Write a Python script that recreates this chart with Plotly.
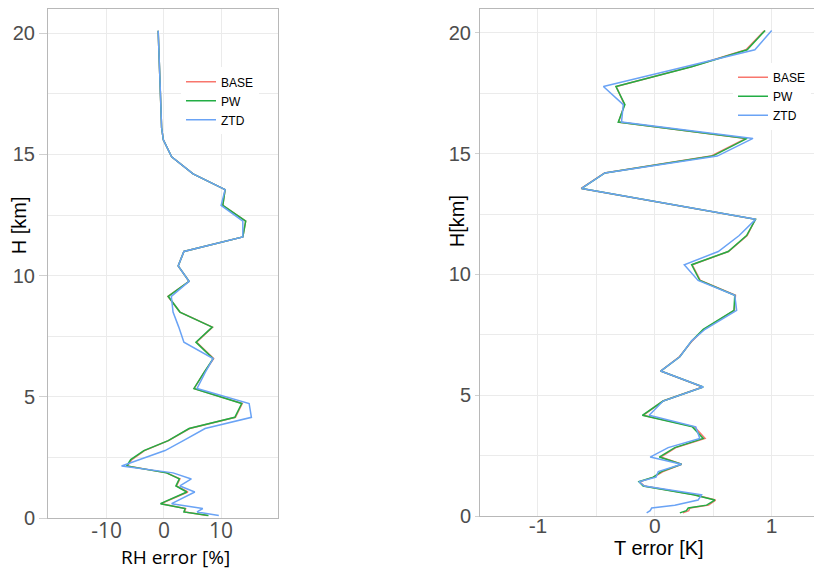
import plotly.graph_objects as go

# ---------------- data ----------------
SERIES = ["BASE", "PW", "ZTD"]

# Left panel: relative humidity error profile
H_RH = [0.11, 0.26, 0.40, 0.60, 1.08, 1.33, 1.62, 1.87, 2.15, 2.42, 2.79, 3.20,
        3.70, 4.16, 4.73, 5.35, 6.00, 6.58, 7.26, 7.88, 8.50, 9.15, 9.77, 10.40,
        11.00, 11.60, 12.25, 12.90, 13.55, 14.20, 14.90, 15.60, 16.10, 17.50, 20.10]
RH_BASE = [7.6, 3.6, 3.8, -0.5, 4.2, 2.2, 2.8, 0.5, -6.4, -5.6, -3.4, 0.8,
           4.5, 12.5, 13.7, 5.3, 7.0, 8.7, 5.7, 8.5, 2.8, 0.7, 4.4, 2.5,
           3.5, 13.8, 14.3, 10.3, 10.7, 5.1, 1.35, -0.1, -0.4, -0.6, -1.0]
RH_PW = [7.8, 3.5, 3.7, -0.6, 4.0, 2.1, 2.7, 0.45, -6.5, -5.8, -3.5, 0.76,
         4.4, 12.4, 13.6, 5.25, 7.0, 8.6, 5.6, 8.45, 2.8, 0.75, 4.4, 2.5,
         3.5, 13.8, 14.3, 10.3, 10.7, 5.1, 1.35, -0.1, -0.4, -0.6, -1.0]
RH_ZTD = [9.6, 5.8, 6.8, 1.35, 5.4, 2.8, 4.8, 1.6, -7.4, -4.2, 0.2, 3.4,
          7.2, 15.3, 14.9, 5.8, 7.2, 8.6, 3.5, 2.6, 1.6, 1.3, 4.4, 2.5,
          3.5, 13.8, 13.8, 10.0, 10.7, 5.1, 1.35, -0.1, -0.4, -0.6, -1.0]

# Right panel: temperature error profile
H_T = [0.13, 0.22, 0.33, 0.45, 0.66, 0.88, 1.24, 1.42, 1.61, 1.84, 2.14, 2.44,
       2.83, 3.21, 3.69, 4.17, 4.76, 5.34, 6.00, 6.59, 7.25, 7.73, 8.51, 9.14,
       9.75, 10.40, 10.95, 11.61, 12.28, 13.56, 14.20, 14.90, 15.63, 16.31,
       17.03, 17.78, 18.60, 19.30, 20.10]
T_BASE = [0.24, 0.29, 0.30, 0.46, 0.52, 0.34, -0.09, -0.13, -0.01, 0.07, 0.23, 0.05,
          0.18, 0.43, 0.34, -0.10, 0.07, 0.41, 0.05, 0.21, 0.32, 0.42, 0.68, 0.69,
          0.39, 0.32, 0.63, 0.79, 0.86, -0.63, -0.43, 0.48, 0.78, -0.31, -0.26,
          -0.33, 0.31, 0.78, 0.94]
T_PW = [0.214, 0.27, 0.286, 0.443, 0.513, 0.33, -0.10, -0.136, -0.013, 0.056, 0.228, 0.038,
        0.171, 0.414, 0.322, -0.107, 0.071, 0.414, 0.05, 0.214, 0.315, 0.414, 0.677, 0.684,
        0.385, 0.315, 0.628, 0.785, 0.862, -0.626, -0.427, 0.494, 0.79, -0.313, -0.256,
        -0.333, 0.315, 0.79, 0.944]
T_ZTD = [-0.07, -0.04, -0.027, 0.171, 0.37, 0.40, -0.09, -0.136, 0.01, 0.03, 0.228, -0.04,
         0.114, 0.385, 0.35, -0.048, 0.071, 0.414, 0.05, 0.214, 0.315, 0.43, 0.70, 0.684,
         0.37, 0.252, 0.543, 0.722, 0.862, -0.626, -0.427, 0.534, 0.84, -0.285, -0.27,
         -0.44, 0.26, 0.856, 1.0]

X_TICKS_RH = [-10, 0, 10]
X_TICKS_T = [-1, 0, 1]
Y_TICKS = [0, 5, 10, 15, 20]

# ---------------- styling ----------------
COLORS = {"BASE": "#F8766D", "PW": "#22AD44", "ZTD": "#6AA3F5"}
GRID = "#ebebeb"
FRAME = "#b8b8b8"
TICKCOL = "#4d4d4d"
OFF = 8          # page body margin
KY = 0.979       # observed vertical scale of the photograph
W, H = 806, 574

fig = go.Figure()
rh = {"BASE": RH_BASE, "PW": RH_PW, "ZTD": RH_ZTD}
tt = {"BASE": T_BASE, "PW": T_PW, "ZTD": T_ZTD}
for s in SERIES:
    fig.add_trace(go.Scatter(x=rh[s], y=H_RH, mode="lines", name=s,
                             line=dict(color=COLORS[s], width=1.5),
                             xaxis="x", yaxis="y", legend="legend"))
for s in SERIES:
    fig.add_trace(go.Scatter(x=tt[s], y=H_T, mode="lines", name=s,
                             line=dict(color=COLORS[s], width=1.5),
                             xaxis="x2", yaxis="y2", legend="legend2"))


def px_x(p):
    return min(1.0, max(0.0, (p - OFF) / W))


def fy(p):
    """screen y -> figure pixel y"""
    return p / KY - OFF


def px_y(p):
    return min(1.0, max(0.0, (H - fy(p)) / H))


def yrange(y20, y0):
    # screen positions of H=20 and H=0, top of plot at figure y = 0
    per = (fy(y0) - fy(y20)) / 20.0
    return [0, 20 + fy(y20) / per]


common_x = dict(showgrid=True, gridcolor=GRID, gridwidth=1, zeroline=False,
                showline=True, linecolor=FRAME, linewidth=1, mirror=True,
                ticks="", fixedrange=True)
common_y = dict(showgrid=True, gridcolor=GRID, gridwidth=1, zeroline=False,
                showline=True, linecolor=FRAME, linewidth=1,
                ticks="outside", tickcolor="#d0d0d0", fixedrange=True,
                tickvals=Y_TICKS, ticktext=[str(v) for v in Y_TICKS],
                tickfont=dict(family="Liberation Sans", size=20, color=TICKCOL),
                minor=dict(dtick=2.5, tick0=0, showgrid=True, gridcolor=GRID, ticks=""))

fig.update_layout(
    width=W, height=H, margin=dict(l=0, r=0, t=0, b=0),
    paper_bgcolor="white", plot_bgcolor="white",
    xaxis=dict(domain=[px_x(48), px_x(278.3)], range=[-20.26, 20.0], anchor="y",
               tickvals=X_TICKS_RH, ticktext=[str(v) for v in X_TICKS_RH],
               tickfont=dict(family="Open Sans", size=21, color=TICKCOL),
               ticklabelstandoff=-6, **common_x),
    yaxis=dict(domain=[px_y(517), 1.0], range=yrange(32, 517),
               anchor="x", mirror=True, ticklen=8, **common_y),
    xaxis2=dict(domain=[px_x(480), 1.0], range=[-1.496, 1.362], anchor="y2",
                tickvals=X_TICKS_T, ticktext=[str(v) for v in X_TICKS_T],
                tickfont=dict(family="Liberation Sans", size=21, color=TICKCOL),
                minor=dict(dtick=0.5, tick0=0, showgrid=True, gridcolor=GRID, ticks=""),
                ticklabelstandoff=-9, **common_x),
    yaxis2=dict(domain=[px_y(514.8), 1.0], range=yrange(31.7, 514.8), anchor="x2",
                mirror=False, ticklen=4, **common_y),
    legend=dict(x=px_x(181), y=(H - 59.6) / H, xanchor="left", yanchor="top",
                bgcolor="white", borderwidth=0, tracegroupgap=0,
                font=dict(family="Liberation Sans", size=12, color="black")),
    legend2=dict(x=px_x(733), y=(H - 54.8) / H, xanchor="left", yanchor="top",
                 bgcolor="white", borderwidth=0, tracegroupgap=0,
                 font=dict(family="Liberation Sans", size=12, color="black")),
    annotations=[
        dict(text="RH error [%]", x=px_x(175), y=px_y(556), xref="paper", yref="paper",
             showarrow=False, xanchor="center", yanchor="middle",
             font=dict(family="Open Sans", size=19, color="black")),
        dict(text="T error [K]", x=px_x(659), y=px_y(547), xref="paper", yref="paper",
             showarrow=False, xanchor="center", yanchor="middle",
             font=dict(family="Liberation Sans", size=20, color="black")),
        dict(text="H [km]", x=px_x(19), y=px_y(224), xref="paper", yref="paper",
             showarrow=False, xanchor="center", yanchor="middle", textangle=-90,
             font=dict(family="Liberation Sans", size=20, color="black")),
        dict(text="H[km]", x=px_x(457), y=px_y(220), xref="paper", yref="paper",
             showarrow=False, xanchor="center", yanchor="middle", textangle=-90,
             font=dict(family="Liberation Sans", size=20, color="black")),
    ],
)

fig.write_html("out.html")
